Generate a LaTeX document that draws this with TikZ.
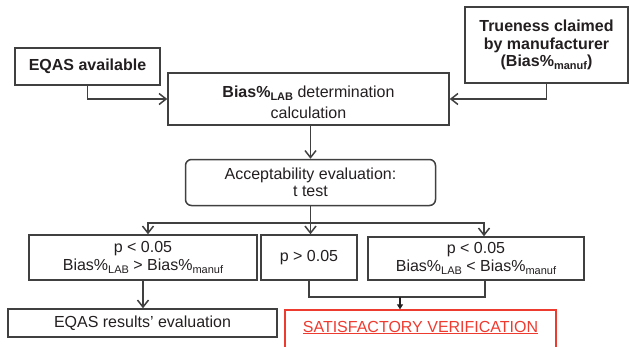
\documentclass[tikz,border=0pt]{standalone}
\usepackage{fontspec}
\setmainfont{Liberation Sans}
\usetikzlibrary{arrows.meta}
\definecolor{ink}{HTML}{231F20}
\definecolor{rulegray}{HTML}{404040}
\definecolor{alertred}{HTML}{EE3B30}
% lowered small index used in Bias%_LAB and Bias%_manuf
\newcommand\lowsub[1]{\raisebox{-3pt}{\fontsize{11}{11}\selectfont #1}}

\begin{document}
\begin{tikzpicture}[x=1pt,y=-1pt,
  box/.style={draw=rulegray, line width=1.5pt, text=ink, align=center, inner sep=0pt,
    font=\fontsize{16}{17.5}\selectfont},
  boldbox/.style={box, font=\fontsize{16}{17.5}\selectfont\bfseries},
  arr/.style={draw=rulegray, line width=1.5pt, -{Straight Barb[length=7pt,width=11pt]}},
  link/.style={draw=rulegray, line width=1.5pt},
  tinyarr/.style={draw=ink, line width=1.1pt, -{Triangle[length=5pt,width=6pt]}},
  goodbox/.style={draw=alertred, line width=1.3pt, text=alertred, inner xsep=0pt, inner ysep=4pt,
    font=\fontsize{16}{17.5}\selectfont}
]
\useasboundingbox (0,0) rectangle (631,346);

% inputs
\node[boldbox, minimum width=145pt, minimum height=37pt] (eqas) at (87.5,66.5) {EQAS available};
\node[boldbox, minimum width=163pt, minimum height=76pt] (true) at (546.5,45)
  {Trueness claimed\\by manufacturer\\(Bias\%\lowsub{manuf})};

% bias calculation and evaluation (strut lowers the two lines a little)
\node[box, minimum width=281pt, minimum height=52pt] (bias) at (308.5,99)
  {\rule{0pt}{18pt}\textbf{Bias\%\lowsub{LAB}} determination\\[4pt]calculation};
\node[box, rounded corners=6pt, minimum width=250pt, minimum height=46pt] (acc) at (310.5,182.5)
  {Acceptability evaluation:\\t test};

% outcomes
\node[box, minimum width=228pt, minimum height=45pt] (high) at (143,257.5)
  {p < 0.05\\Bias\%\lowsub{LAB} > Bias\%\lowsub{manuf}};
\node[box, minimum width=96pt, minimum height=45pt] (ns) at (309,257.5) {p > 0.05};
\node[box, minimum width=216pt, minimum height=43pt] (low) at (476,258.5)
  {p < 0.05\\Bias\%\lowsub{LAB} < Bias\%\lowsub{manuf}};

% conclusions
\node[box, minimum width=269pt, minimum height=28pt] (review) at (142.5,323) {EQAS results’ evaluation};
\node[goodbox, minimum width=271pt, text height=18pt, text depth=14pt] (ok) at (420.5,330)
  {\underline{SATISFACTORY VERIFICATION}};

% connectors
\draw[arr] (eqas) |- (bias.west);
\draw[arr] (true) |- (bias.east);
\draw[arr] (bias.south -| acc.north) -- (acc.north);

\coordinate (split) at (310.5,223);
\draw[link] (acc.south) -- (split);
\draw[arr] (split) -| ([xshift=5pt]high.north);
\draw[arr] (split) -- (split |- ns.north);
\draw[arr] (split) -| ([xshift=8pt]low.north);

\draw[arr] (high.south) -- (high.south |- review.north);

\coordinate (merge) at (400,297);
\draw[link] (ns.south) |- (merge) -| ([xshift=9pt]low.south);
\draw[tinyarr] (merge) -- (merge |- ok.north);
\end{tikzpicture}
\end{document}
